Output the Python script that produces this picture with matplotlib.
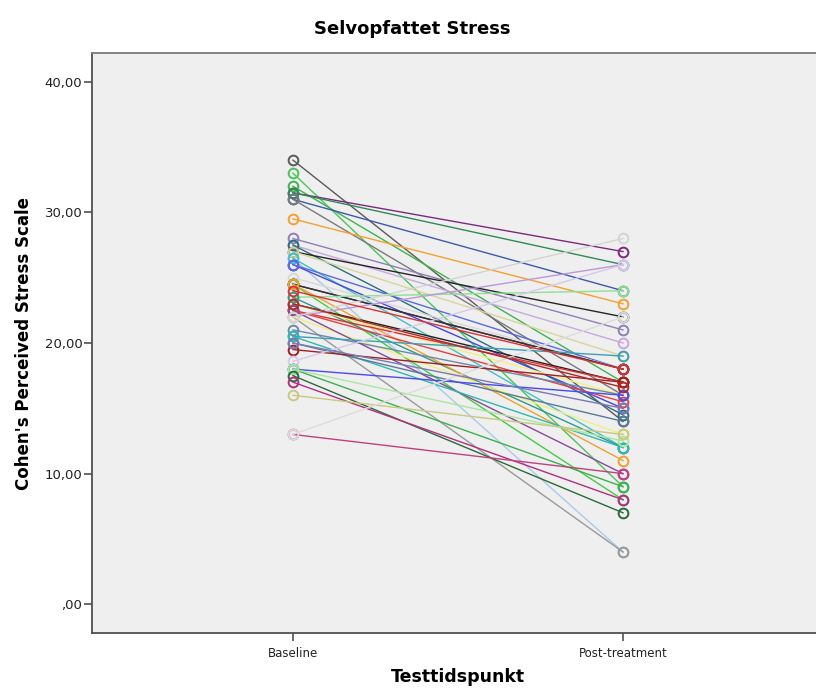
import matplotlib
matplotlib.use("Agg")
import matplotlib.pyplot as plt
from matplotlib.ticker import FuncFormatter

TIMEPOINTS = ["Baseline", "Post-treatment"]

# one entry per participant: score at baseline and post-treatment
baseline = [34, 33, 32, 31.5, 31.5, 31, 31, 29.5, 28, 27.5, 27.5, 27, 27, 26.5, 26.5,
            26, 26, 25, 24.5, 24.5, 24.5, 23.5, 23.5, 23, 24.5, 23, 22.5, 22.5, 22, 22,
            22, 21, 22.5, 20.5, 20.5, 20, 19.5, 18.6, 18, 18, 18, 17.5, 17, 16, 13, 13,
            22, 24, 23, 20]
post = [14, 9, 17, 27, 26, 24, 16, 23, 21, 20, 14.5, 22, 19, 4, 12,
        15, 18, 18, 18, 18, 8, 24, 12, 17, 11, 16, 17, 15.5, 4, 26,
        13, 16, 10, 19, 12, 14, 17, 26, 16, 9, 12.5, 7, 8, 13, 10, 22,
        28, 18, 16.6, 15]

LINE_COLORS = [
    "#5a5a5a", "#4cc45a", "#3fb34f", "#7b2a7e", "#2e8b57", "#3a5ba8", "#7a7a7a",
    "#f5a030", "#8e7fb8", "#c8a8e0", "#2a6f7a", "#262626", "#d8d49a", "#a9cbe8",
    "#40c0c8", "#4646e0", "#5a6ae0", "#d8d8d8", "#5a2a5a", "#333333", "#44cc44",
    "#90e090", "#2f9a8a", "#222222", "#f0a030", "#f5f07a", "#e03030", "#e84040",
    "#999999", "#b89ad8", "#f0f080", "#6a8aa8", "#8a4a9a", "#3aa0b8", "#30b8b0",
    "#5a7a98", "#a02020", "#d8c8ec", "#4a4af0", "#3cb050", "#a8e8a0", "#2a6a3a",
    "#b03080", "#c8c880", "#c04080", "#dcdcdc", "#d4d4d4", "#e03030", "#b02828",
    "#7a7ab8",
]

AXIS_BG = "#efefef"
SPINE = "#505050"


def spss_number(value, _pos):
    text = f"{value:.2f}".replace(".", ",")
    if text.startswith("0,"):
        text = text[1:]
    return text


figure = plt.figure(figsize=(8.16, 6.90), dpi=100, facecolor="white")
axis = figure.add_axes([92 / 816, 57 / 690, 732 / 816, 580 / 690])
axis.set_facecolor(AXIS_BG)

positions = [0, 1]
for start, end, color in zip(baseline, post, LINE_COLORS):
    axis.plot(
        positions,
        [start, end],
        color=color,
        linewidth=1.0,
        marker="o",
        markersize=7,
        markerfacecolor="none",
        markeredgecolor=color,
        markeredgewidth=1.4,
    )

axis.set_xlim(-0.609, 1.609)
axis.set_ylim(-2.2, 42.2)
axis.set_xticks(positions, TIMEPOINTS)
axis.set_yticks([0, 10, 20, 30, 40])
axis.yaxis.set_major_formatter(FuncFormatter(spss_number))

for side in ["left", "bottom", "top", "right"]:
    axis.spines[side].set_color(SPINE)
    axis.spines[side].set_linewidth(1.3)
axis.spines["top"].set_color("#7a7a7a")
axis.tick_params(axis="both", direction="out", length=6, width=1.2, color=SPINE,
                 labelcolor="#222222")
axis.tick_params(axis="y", labelsize=9.5, pad=1)
axis.tick_params(axis="x", labelsize=8.5, pad=4)
axis.tick_params(top=False, right=False)

axis.set_xlabel("Testtidspunkt", fontsize=12.5, fontweight="bold", labelpad=6)
axis.set_ylabel("Cohen's Perceived Stress Scale", fontsize=12, fontweight="bold", labelpad=8)
figure.text(412 / 816, 1 - 29 / 690, "Selvopfattet Stress", ha="center", va="center",
            fontsize=13, fontweight="bold")

figure.savefig("out.png", dpi=100, facecolor="white")
